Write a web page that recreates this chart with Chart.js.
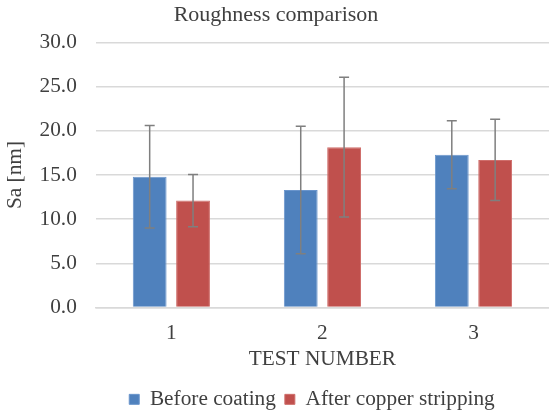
<!DOCTYPE html>
<html>
<head>
<meta charset="utf-8">
<script src="https://cdn.jsdelivr.net/npm/chart.js@4/dist/chart.umd.min.js"></script>
<style>
  html, body { margin: 0; padding: 0; background: #fff; }
  #wrap { width: 549px; height: 412px; }
</style>
</head>
<body>
<div id="wrap"><canvas id="chart" width="549" height="412"></canvas></div>
<script>
'use strict';

// Data
const categories = ['1', '2', '3'];
const beforeCoating = [14.8, 13.3, 17.3];
const beforeErr = [5.8, 7.2, 3.85];
const afterStripping = [12.1, 18.15, 16.7];
const afterErr = [2.95, 7.9, 4.6];
const yTicks = [0, 5, 10, 15, 20, 25, 30];

const SERIF = "'Liberation Serif', 'Times New Roman', serif";
const TEXT = '#404040';
const FS = 21.3;

// Draws symmetric error bars through the chart's own scales
const errorBars = {
  id: 'errorBars',
  afterDatasetsDraw(chart) {
    const { ctx } = chart;
    const y = chart.scales.y;
    ctx.save();
    ctx.strokeStyle = '#7f7f7f';
    ctx.lineWidth = 1.5;
    chart.data.datasets.forEach((ds, i) => {
      const meta = chart.getDatasetMeta(i);
      meta.data.forEach((bar, j) => {
        const v = ds.data[j];
        const e = ds.errors[j];
        const top = y.getPixelForValue(v + e);
        const bot = y.getPixelForValue(v - e);
        const x = bar.x;
        ctx.beginPath();
        ctx.moveTo(x, top); ctx.lineTo(x, bot);
        ctx.moveTo(x - 5, top); ctx.lineTo(x + 5, top);
        ctx.moveTo(x - 5, bot); ctx.lineTo(x + 5, bot);
        ctx.stroke();
      });
    });
    ctx.restore();
  },
};

// Excel puts the legend a bit right of the canvas centre
const legendShift = {
  id: 'legendShift',
  afterUpdate(chart) {
    const lg = chart.legend;
    if (!lg) return;
    lg.left += 36;
    lg.right += 36;
  },
};

new Chart(document.getElementById('chart'), {
  type: 'bar',
  data: {
    labels: categories,
    datasets: [
      {
        label: 'Before coating',
        data: beforeCoating,
        errors: beforeErr,
        backgroundColor: '#4F81BD',
        borderColor: '#6a95cc',
        borderWidth: 1,
        categoryPercentage: 0.574,
        barPercentage: 0.78,
      },
      {
        label: 'After copper stripping',
        data: afterStripping,
        errors: afterErr,
        backgroundColor: '#C0504D',
        borderColor: '#cf6e6b',
        borderWidth: 1,
        categoryPercentage: 0.574,
        barPercentage: 0.78,
      },
    ],
  },
  options: {
    responsive: false,
    animation: false,
    devicePixelRatio: 1,
    layout: { padding: { left: 3, right: 0, top: 0, bottom: -8 } },
    plugins: {
      title: {
        display: true,
        text: 'Roughness comparison',
        color: TEXT,
        font: { family: SERIF, size: 22, weight: 'normal' },
        padding: { top: 2, bottom: 14 },
      },
      legend: {
        position: 'bottom',
        labels: {
          color: TEXT,
          font: { family: SERIF, size: FS },
          boxWidth: 10,
          boxHeight: 10,
          padding: 9,
        },
      },
      tooltip: { enabled: false },
    },
    scales: {
      x: {
        grid: { display: false, drawTicks: false },
        border: { color: '#d9d9d9', width: 1.5 },
        ticks: { color: TEXT, font: { family: SERIF, size: FS }, padding: 13 },
        title: {
          display: true,
          text: 'TEST NUMBER',
          color: TEXT,
          font: { family: SERIF, size: FS },
          padding: { top: -13, bottom: 8 },
        },
      },
      y: {
        min: yTicks[0],
        max: yTicks[yTicks.length - 1],
        afterBuildTicks: axis => { axis.ticks = yTicks.map(v => ({ value: v })); },
        grid: { color: '#d9d9d9', lineWidth: 1.5, drawTicks: false },
        border: { display: false },
        ticks: {
          color: TEXT,
          font: { family: SERIF, size: FS },
          padding: 19,
          callback: v => v.toFixed(1),
        },
        title: {
          display: true,
          text: 'Sa [nm]',
          color: TEXT,
          font: { family: SERIF, size: FS },
          padding: { top: 0, bottom: -8 },
        },
      },
    },
  },
  plugins: [errorBars, legendShift],
});
</script>
</body>
</html>
